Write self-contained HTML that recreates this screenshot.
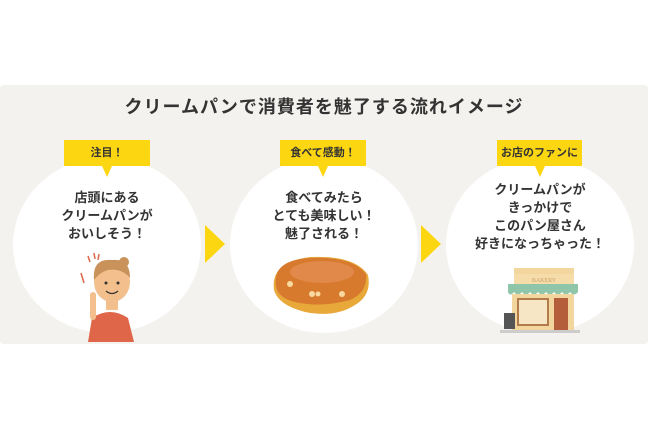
<!DOCTYPE html>
<html><head><meta charset="utf-8"><style>
body{margin:0;width:648px;height:432px;background:#fff;position:relative;overflow:hidden;font-family:"Liberation Sans","Noto Sans CJK JP",sans-serif;}
.panel{position:absolute;left:0;top:85px;width:648px;height:259px;background:#f4f2ee;border-radius:4px;}
.title{position:absolute;left:0;width:648px;top:93px;text-align:center;font-size:18px;font-weight:bold;color:#333;letter-spacing:1px;}
.c{position:absolute;width:188px;height:176px;border-radius:50%;background:#fff;top:157px;}
.tag{position:absolute;top:140px;height:26px;background:#fcd611;font-size:11px;font-weight:bold;color:#333;text-align:center;line-height:26px;}
.tag:after{content:"";position:absolute;left:50%;margin-left:-5px;top:26px;border-left:5px solid transparent;border-right:5px solid transparent;border-top:11px solid #fcd611;}
.t{position:absolute;text-align:center;font-size:13px;font-weight:bold;color:#333;line-height:18px;}
.ar{position:absolute;top:225px;width:0;height:0;border-top:19px solid transparent;border-bottom:19px solid transparent;border-left:20px solid #fcd611;}
</style></head><body>
<div class="panel"></div>
<div class="title">クリームパンで消費者を魅了する流れイメージ</div>
<div class="c" style="left:13px"></div>
<div class="c" style="left:230px"></div>
<div class="c" style="left:446px"></div>
<div class="tag" style="left:64px;width:86px">注目！</div>
<div class="tag" style="left:280px;width:86px">食べて感動！</div>
<div class="tag" style="left:497px;width:85px">お店のファンに</div>
<div class="t" style="left:13px;width:188px;top:189px">店頭にある<br>クリームパンが<br>おいしそう！</div>
<div class="t" style="left:230px;width:188px;top:189px">食べてみたら<br>とても美味しい！<br>魅了される！</div>
<div class="t" style="left:446px;width:188px;top:181px">クリームパンが<br>きっかけで<br>このパン屋さん<br>好きになっちゃった！</div>
<div class="ar" style="left:205px"></div>
<div class="ar" style="left:421px"></div>
<svg style="position:absolute;left:0;top:0" width="648" height="432">
<path d="M88 342 L92 318 Q110 306 128 318 L134 342 Z" fill="#e0664a"/>
<rect x="90" y="292" width="6" height="28" rx="3" fill="#f3c08d"/>
<ellipse cx="112" cy="282" rx="18" ry="20" fill="#f3c08d"/>
<path d="M94 280 Q92 258 112 260 Q130 258 130 278 Q122 268 108 270 Q100 272 94 280Z" fill="#c8925a"/>
<circle cx="124" cy="262" r="5" fill="#c8925a"/>
<rect x="106" y="300" width="12" height="10" fill="#f3c08d"/>
<circle cx="106" cy="283" r="1.5" fill="#333"/><circle cx="118" cy="283" r="1.5" fill="#333"/>
<path d="M106 291 Q112 296 118 291" stroke="#333" fill="none" stroke-width="1.2"/>
<path d="M81 273 L84 283 M88 256 L90 262 M94 253 L95 259 M99 254 L98 260" stroke="#e0664a" stroke-width="1.5"/>
<path d="M274 290 Q270 262 310 257 Q355 255 368 275 Q372 295 355 305 Q335 318 305 312 Q278 305 274 290Z" fill="#e8a83a"/>
<path d="M276 286 Q272 260 310 258 Q352 256 366 274 Q368 292 350 300 Q320 308 295 302 Q278 298 276 286Z" fill="#d77a2e"/>
<ellipse cx="322" cy="272" rx="32" ry="11" fill="#e0894a"/>
<circle cx="290" cy="284" r="3" fill="#f8d9a0"/><circle cx="312" cy="294" r="3" fill="#f8d9a0"/><circle cx="318" cy="294" r="2.5" fill="#f8d9a0"/><circle cx="342" cy="294" r="3" fill="#f8d9a0"/>
<rect x="514" y="268" width="60" height="6" fill="#f3d69e"/>
<rect x="514" y="274" width="60" height="10" fill="#f5dca8"/>
<text x="544" y="282" font-size="6" fill="#c9a06a" text-anchor="middle" font-family="Liberation Serif,serif">BAKERY</text>
<path d="M508 284 H578 V292 Q574 297 570 292 Q566 297 562 292 Q558 297 554 292 Q550 297 546 292 Q542 297 538 292 Q534 297 530 292 Q526 297 522 292 Q518 297 514 292 Q510 297 508 292Z" fill="#8fc6aa"/>
<rect x="512" y="294" width="62" height="36" fill="#f3d69e"/>
<rect x="517" y="298" width="32" height="28" fill="#b37b4a"/>
<rect x="519" y="300" width="28" height="24" fill="#f7e6c5"/>
<rect x="554" y="298" width="14" height="32" fill="#b45e3c"/>
<rect x="504" y="313" width="11" height="16" fill="#555"/>
<rect x="500" y="330" width="80" height="3" fill="#ccc"/>
</svg>
</body></html>
